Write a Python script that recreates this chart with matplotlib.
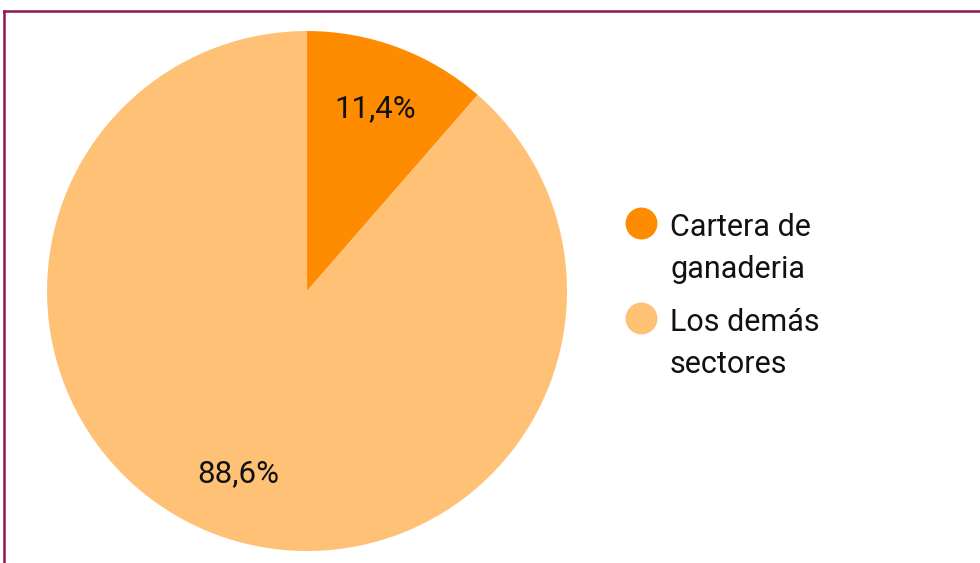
import matplotlib.pyplot as plt
from matplotlib.lines import Line2D

labels = ['Cartera de\nganaderia', 'Los demás\nsectores']
values = [11.4, 88.6]
colors = ['#FF8C00', '#FFC175']

plt.rcParams['font.family'] = ['Roboto', 'DejaVu Sans']

W, H = 980, 563


def fmt_pct(p):
    return f'{p:.1f}%'.replace('.', ',')


def plot_pie():
    fig = plt.figure(figsize=(W / 100, H / 100), dpi=100)
    ax = fig.add_axes([0.0480, 0.0213, 0.5306, 0.9236])

    ax.pie(values, colors=colors, startangle=90, counterclock=False,
           autopct=fmt_pct, pctdistance=0.75, radius=1.0,
           textprops={'fontsize': 22.5, 'color': '#111111'},
           wedgeprops={'linewidth': 0})
    ax.set_xlim(-1, 1)
    ax.set_ylim(-1, 1)
    ax.set_aspect('equal')
    ax.axis('off')

    # legend drawn by hand: marker aligned with first text line
    for i, (lab, col) in enumerate(zip(labels, colors)):
        y_marker = 223 + 95 * i
        fig.add_artist(Line2D([641 / W], [1 - y_marker / H], marker='o',
                              markersize=23, markerfacecolor=col,
                              markeredgewidth=0, linestyle='',
                              transform=fig.transFigure))
        for j, line in enumerate(lab.split('\n')):
            y_base = y_marker + 13 + 42 * j
            fig.text(670 / W, 1 - y_base / H, line, fontsize=22,
                     color='#111111', va='baseline', ha='left')

    # frame border (top and left)
    border = '#8E1657'
    fig.add_artist(Line2D([3.5 / W, 1.0], [1 - 10.5 / H] * 2,
                          transform=fig.transFigure, color=border, lw=1.8))
    fig.add_artist(Line2D([3.5 / W] * 2, [0, 1 - 10.5 / H],
                          transform=fig.transFigure, color=border, lw=1.8))

    fig.savefig('out.png', dpi=100)


if __name__ == "__main__":
    plot_pie()
